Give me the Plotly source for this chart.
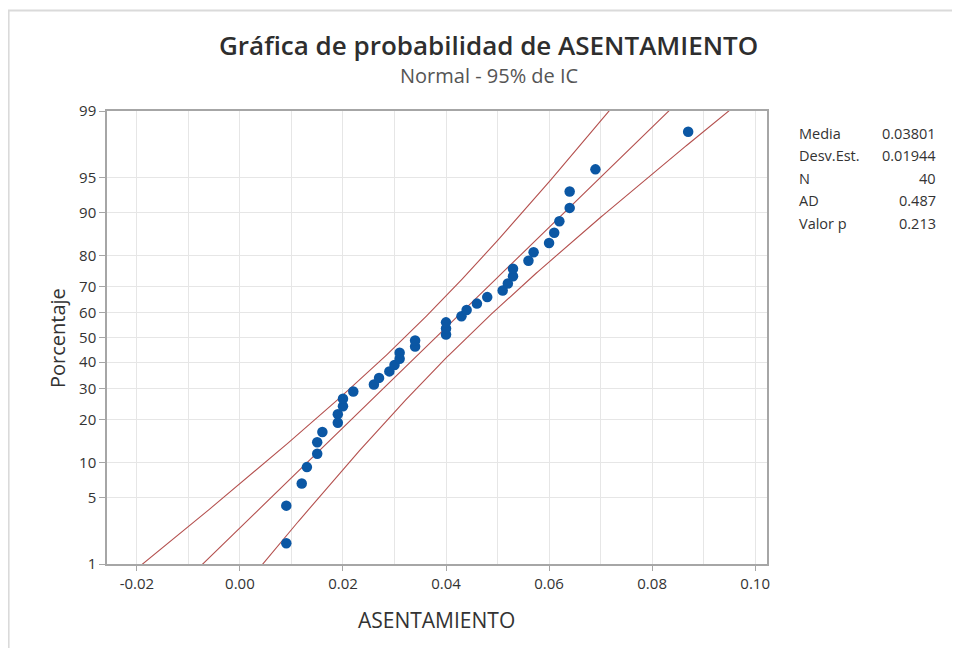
import plotly.graph_objects as go
from statistics import NormalDist

# ---- data ----
asentamiento = [0.009, 0.009, 0.012, 0.013, 0.015, 0.015, 0.016, 0.019, 0.019, 0.020,
                0.020, 0.022, 0.026, 0.027, 0.029, 0.030, 0.031, 0.031, 0.034, 0.034,
                0.040, 0.040, 0.040, 0.043, 0.044, 0.046, 0.048, 0.051, 0.052, 0.053,
                0.053, 0.056, 0.057, 0.060, 0.061, 0.062, 0.064, 0.064, 0.069, 0.087]
y_tick_pct = [1, 5, 10, 20, 30, 40, 50, 60, 70, 80, 90, 95, 99]
x_tick_vals = [-0.02, 0.00, 0.02, 0.04, 0.06, 0.08, 0.10]
x_tick_text = ["-0.02", "0.00", "0.02", "0.04", "0.06", "0.08", "0.10"]
stat_labels = ["Media", "Desv.Est.", "N", "AD", "Valor p"]
stat_values = ["0.03801", "0.01944", "40", "0.487", "0.213"]
media = 0.03801
desv = 0.01944
n_obs = 40

nd = NormalDist()
n = len(asentamiento)
# median-rank plotting positions (probability plot definition)
z_pts = [nd.inv_cdf((i - 0.3) / (n + 0.4)) for i in range(1, n + 1)]
pct_pts = [100 * (i - 0.3) / (n + 0.4) for i in range(1, n + 1)]

# fitted line and 95% CI bands
zc = 1.959964
z_line = [-3.0 + k * 0.02 for k in range(301)]
x_fit = [media + desv * z for z in z_line]
half = [zc * desv * ((1 / n_obs) + z * z / (2 * n_obs)) ** 0.5 for z in z_line]
x_lo = [a - h for a, h in zip(x_fit, half)]
x_hi = [a + h for a, h in zip(x_fit, half)]

line_col = "#B4504E"
fig = go.Figure()
for xs in (x_lo, x_fit, x_hi):
    fig.add_trace(go.Scatter(x=xs, y=z_line, mode="lines",
                             line=dict(color=line_col, width=1.1),
                             hoverinfo="skip", showlegend=False))
fig.add_trace(go.Scatter(x=asentamiento, y=z_pts, mode="markers",
                         marker=dict(color="#0B57A4", size=10.5),
                         customdata=pct_pts,
                         hovertemplate="%{x}<br>%{customdata:.1f}%<extra></extra>",
                         showlegend=False))

zmax = nd.inv_cdf(0.99)
axis_col = "#A6A6A6"
grid_col = "#E6E6E6"
txt_col = "#333333"
FONT = "Open Sans"
tick_font = dict(family=FONT, size=15, color=txt_col)

fig.update_xaxes(range=[-0.0258, 0.1023], tickvals=x_tick_vals, ticktext=x_tick_text,
                 ticks="outside", ticklen=5, tickcolor=axis_col,
                 showgrid=True, gridcolor=grid_col, gridwidth=1,
                 minor=dict(dtick=0.01, tick0=0, showgrid=True, gridcolor=grid_col, ticks=""),
                 showline=True, linecolor=axis_col, linewidth=1.5, mirror=True,
                 zeroline=False, tickfont=tick_font)
fig.update_yaxes(range=[-zmax, zmax],
                 tickvals=[nd.inv_cdf(p / 100) for p in y_tick_pct],
                 ticktext=[str(p) for p in y_tick_pct],
                 ticks="outside", ticklen=6, tickcolor=axis_col,
                 showgrid=True, gridcolor=grid_col, gridwidth=1,
                 showline=True, linecolor=axis_col, linewidth=1.5, mirror=True,
                 zeroline=False, tickfont=tick_font)

OFF = 8  # page offset of the figure in the browser window
W, H = 952, 640
L, T = 107 - OFF, 111 - OFF
pw, ph = 660, 453
R = W - L - pw
B = H - T - ph


def px(xp):
    return (xp - OFF - L) / pw


def py(yp):
    return (T + ph - (yp - OFF)) / ph


ann = []
ann.append(dict(text="Gráfica de probabilidad de ASENTAMIENTO", x=px(488), y=py(45),
                xref="paper", yref="paper", showarrow=False, xanchor="center", yanchor="middle",
                font=dict(family=FONT, size=26, color="#2E2E2E", weight=600)))
ann.append(dict(text="Normal - 95% de IC", x=px(489), y=py(75),
                xref="paper", yref="paper", showarrow=False, xanchor="center", yanchor="middle",
                font=dict(family=FONT, size=20, color="#555555")))
ann.append(dict(text="Porcentaje", x=px(57), y=py(338), textangle=-90,
                xref="paper", yref="paper", showarrow=False, xanchor="center", yanchor="middle",
                font=dict(family=FONT, size=20, color=txt_col)))
ann.append(dict(text="ASENTAMIENTO", x=px(436), y=py(620),
                xref="paper", yref="paper", showarrow=False, xanchor="center", yanchor="middle",
                font=dict(family=FONT, size=21, color=txt_col)))
for k, (lab, val) in enumerate(zip(stat_labels, stat_values)):
    yy = 133 + k * 22.5
    ann.append(dict(text=lab, x=px(797), y=py(yy), xref="paper", yref="paper",
                    showarrow=False, xanchor="left", yanchor="middle",
                    font=dict(family=FONT, size=14.5, color=txt_col)))
    ann.append(dict(text=val, x=px(938), y=py(yy), xref="paper", yref="paper",
                    showarrow=False, xanchor="right", yanchor="middle",
                    font=dict(family=FONT, size=14.5, color=txt_col)))

shapes = [dict(type="rect", xref="paper", yref="paper",
               x0=px(8.6), x1=px(1000), y0=py(700), y1=py(10.5),
               line=dict(color="#DADADA", width=2), fillcolor="rgba(0,0,0,0)", layer="below")]

fig.update_layout(width=W, height=H, margin=dict(l=L, r=R, t=T, b=B),
                  paper_bgcolor="white", plot_bgcolor="white",
                  annotations=ann, shapes=shapes, showlegend=False)

fig.write_html("out.html")
